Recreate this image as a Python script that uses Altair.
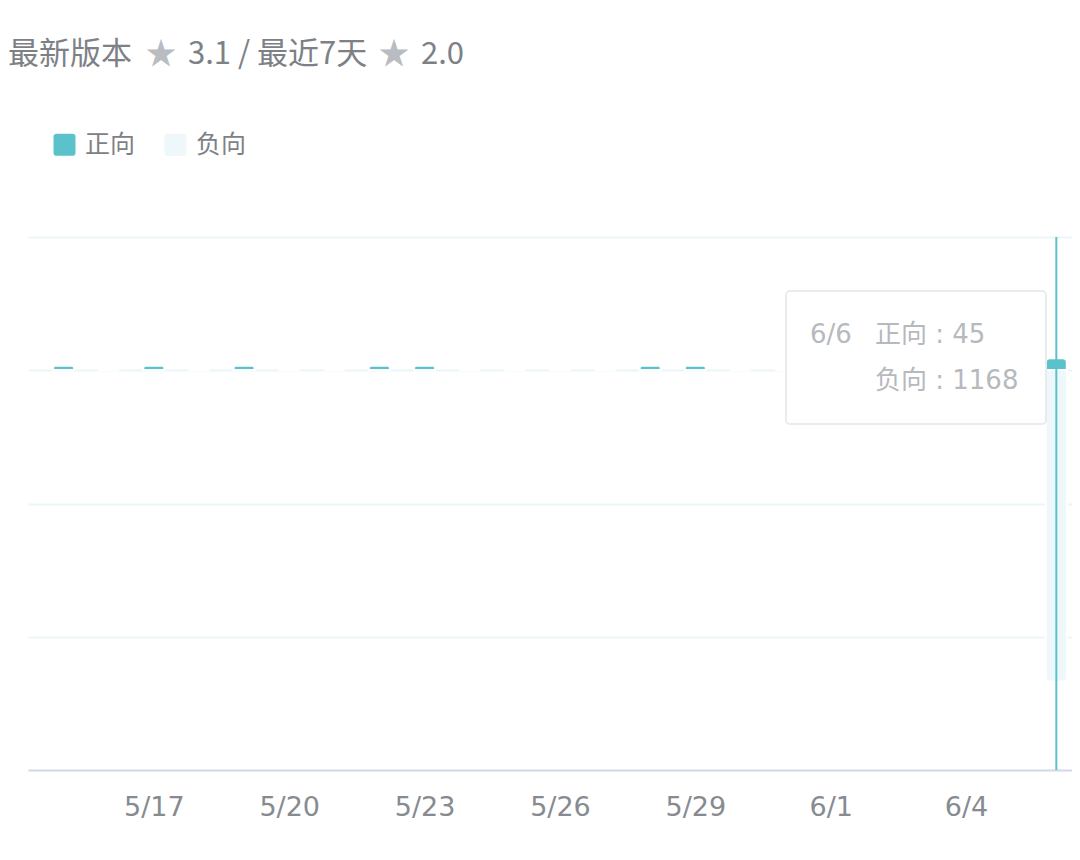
import altair as alt
import pandas as pd

# daily review counts, 5/14 .. 6/6
dates = pd.date_range("2023-05-14", "2023-06-06", freq="D")
positive = [0, 17, 0, 17, 0, 17, 0, 0, 17, 17, 0, 0,
            0, 0, 17, 17, 0, 0, 0, 0, 0, 0, 0, 45]
negative = [0, 0, 0, 0, 0, 0, 0, 0, 0, 0, 0, 0,
            0, 0, 0, 0, 0, 0, 0, 0, 0, 0, 0, 1168]
series = ["正向", "负向"]
colors = ["#5bc2cc", "#eef7f9"]
y_ticks = [-1000, -500, 0, 500]
x_ticks = ["2023-05-17", "2023-05-20", "2023-05-23", "2023-05-26",
           "2023-05-29", "2023-06-01", "2023-06-04"]
title_parts = ["最新版本", "★", "3.1 / 最近7天", "★", "2.0"]

CJK = "Noto Sans CJK SC"
TEAL = colors[0]


def dt(ts, hours=0, minutes=0):
    ts = pd.Timestamp(ts)
    return alt.DateTime(year=ts.year, month=ts.month, date=ts.day,
                        hours=hours, minutes=minutes)


pos_df = pd.DataFrame({"date": dates, "value": positive, "type": series[0]})
neg_df = pd.DataFrame({"date": dates, "value": [-v for v in negative], "type": series[1]})

x_enc = alt.X(
    "date:T",
    scale=alt.Scale(domain=[dt("2023-05-14", 7, 44), dt("2023-06-06", 5, 41)]),
    axis=alt.Axis(values=[dt(t) for t in x_ticks], format="%-m/%-d", title=None,
                  labelFont="DejaVu Sans", labelFontSize=27, labelColor="#878b91",
                  labelPadding=24, ticks=False, tickSize=0, grid=False,
                  domainColor="#d3d8e6", domainWidth=2,
                  labelFlush=False, labelOverlap=False),
)
y_enc = alt.Y(
    "value:Q",
    scale=alt.Scale(domain=[-1500, 500], nice=False),
    axis=alt.Axis(values=y_ticks, labels=False, ticks=False, domain=False,
                  title=None, gridColor="#ebf5f7", gridWidth=2),
)

rounded_square = ("M-1,-0.72 Q-1,-1 -0.72,-1 L0.72,-1 Q1,-1 1,-0.72 L1,0.72 "
                  "Q1,1 0.72,1 L-0.72,1 Q-1,1 -1,0.72 Z")
color_enc = alt.Color(
    "type:N",
    scale=alt.Scale(domain=series, range=colors),
    legend=alt.Legend(title=None, orient="none", legendX=24, legendY=-105,
                      direction="horizontal", symbolType=rounded_square,
                      symbolSize=484, symbolStrokeWidth=0, symbolOpacity=1,
                      labelFont=CJK, labelFontSize=25, labelColor="#7d8186",
                      labelOffset=8, columnPadding=27, padding=0),
)

pos_bars = (
    alt.Chart(pos_df)
    .mark_bar(size=21, stroke="white", strokeWidth=2, clip=True,
              cornerRadiusTopLeft=4, cornerRadiusTopRight=4)
    .encode(x=x_enc, y=y_enc, y2=alt.datum(0), color=color_enc)
)
neg_bars = (
    alt.Chart(neg_df)
    .mark_bar(size=21, stroke="white", strokeWidth=2, clip=True,
              cornerRadiusBottomLeft=4, cornerRadiusBottomRight=4)
    .encode(x=x_enc, y=y_enc, y2=alt.datum(0), color=color_enc)
)

# hover crosshair on the last day
cursor = (
    alt.Chart(pos_df.tail(1))
    .mark_rule(color=TEAL, strokeWidth=2)
    .encode(x="date:T", y=alt.datum(500), y2=alt.datum(-1500))
)


def text_mark(text, x, y, size, color, font=CJK, align="left"):
    return (
        alt.Chart(pd.DataFrame({"t": [text]}))
        .mark_text(align=align, baseline="middle", font=font, fontSize=size, color=color)
        .encode(text="t:N", x=alt.value(x), y=alt.value(y))
    )


# tooltip box
last = dates[-1]
tip_box = (
    alt.Chart(pd.DataFrame({"t": [0]}))
    .mark_rect(fill="white", stroke="#e8ecee", strokeWidth=2, cornerRadius=4)
    .encode(x=alt.value(758), x2=alt.value(1018), y=alt.value(54), y2=alt.value(187))
)
tip_font = f"DejaVu Sans, {CJK}"
tip = [
    tip_box,
    text_mark(f"{last.month}/{last.day}", 782, 98, 26, "#b6b9bd", tip_font),
    text_mark(f"{series[0]} : {positive[-1]}", 847, 98, 26, "#b6b9bd", tip_font),
    text_mark(f"{series[1]} : {negative[-1]}", 847, 144, 26, "#b6b9bd", tip_font),
]

# header line
header = [
    text_mark(title_parts[0], -20, -182, 31, "#7d8186"),
    text_mark(title_parts[1], 133, -182, 31, "#b9bcc0", align="center"),
    text_mark(title_parts[2], 160, -182, 31, "#7d8186"),
    text_mark(title_parts[3], 366, -182, 31, "#b9bcc0", align="center"),
    text_mark(title_parts[4], 393, -182, 31, "#7d8186"),
]

chart = (
    alt.layer(pos_bars, neg_bars, cursor, *tip, *header)
    .properties(
        width=1044,
        height=533,
        padding={"left": 20, "top": 229, "right": 0, "bottom": 60},
        autosize=alt.AutoSizeParams(type="none"),
        background="white",
    )
    .configure_view(stroke=None)
)

chart.save("out.html", embed_options={"renderer": "svg", "actions": False})
